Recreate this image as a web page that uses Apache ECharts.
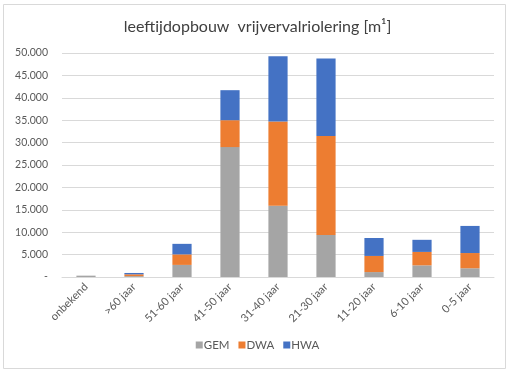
<!DOCTYPE html>
<html><head><meta charset="utf-8">
<script src="https://cdn.jsdelivr.net/npm/echarts@6/dist/echarts.min.js"></script>
<style>html,body{margin:0;padding:0;background:#fff}#c{width:515px;height:374px}</style>
</head><body><div id="c"></div>
<script>
var categories = ['onbekend', '>60 jaar', '51-60 jaar', '41-50 jaar', '31-40 jaar', '21-30 jaar', '11-20 jaar', '6-10 jaar', '0-5 jaar'];
var gem = [300, 200, 2700, 29000, 15900, 9400, 1100, 2600, 1950];
var dwa = [0, 400, 2350, 6000, 18800, 22100, 3600, 3000, 3400];
var hwa = [0, 300, 2350, 6700, 14600, 17300, 4000, 2700, 6050];
var seriesNames = ['GEM', 'DWA', 'HWA'];
var titleText = 'leeftijdopbouw  vrijvervalriolering [m\u00b9]';

var font = 'Lato, "Open Sans", sans-serif';
function fmt(v) {
  if (v === 0) return '-';
  return String(v).replace(/\B(?=(\d{3})+(?!\d))/g, '.');
}
var chart = echarts.init(document.getElementById('c'), null, {renderer: 'canvas'});
var colors = ['#a5a5a5', '#ed7d31', '#4472c4'];
var data = [gem, dwa, hwa];
chart.setOption({
  animation: false,
  color: colors,
  graphic: [{
    type: 'rect', shape: {x: 3.5, y: 4.5, width: 502, height: 364},
    style: {fill: 'none', stroke: '#d9d9d9', lineWidth: 1}, silent: true
  }],
  title: {
    text: titleText, left: 'center', top: 14,
    textStyle: {fontFamily: font, fontSize: 16, fontWeight: 'normal', color: '#404040'}
  },
  legend: {
    data: seriesNames, bottom: 18, left: 'center', itemWidth: 7, itemHeight: 7, itemGap: 9,
    icon: 'rect',
    textStyle: {fontFamily: font, fontSize: 11.5, color: '#595959', padding: [0,0,0,-4]}
  },
  grid: {left: 62, right: 21, top: 53, bottom: 97},
  xAxis: {
    type: 'category', data: categories,
    axisLine: {lineStyle: {color: '#d9d9d9'}},
    axisTick: {show: false},
    axisLabel: {rotate: 45, interval: 0, fontFamily: font, fontSize: 11, color: '#595959', margin: 8}
  },
  yAxis: {
    type: 'value', min: 0, max: 50000, interval: 5000,
    axisLine: {show: false}, axisTick: {show: false},
    splitLine: {lineStyle: {color: '#d9d9d9'}},
    axisLabel: {formatter: fmt, fontFamily: font, fontSize: 10.5, color: '#595959', margin: 14}
  },
  series: seriesNames.map(function (n, i) {
    return {name: n, type: 'bar', stack: 'tot', barWidth: '40%', data: data[i]};
  })
});
</script></body></html>
